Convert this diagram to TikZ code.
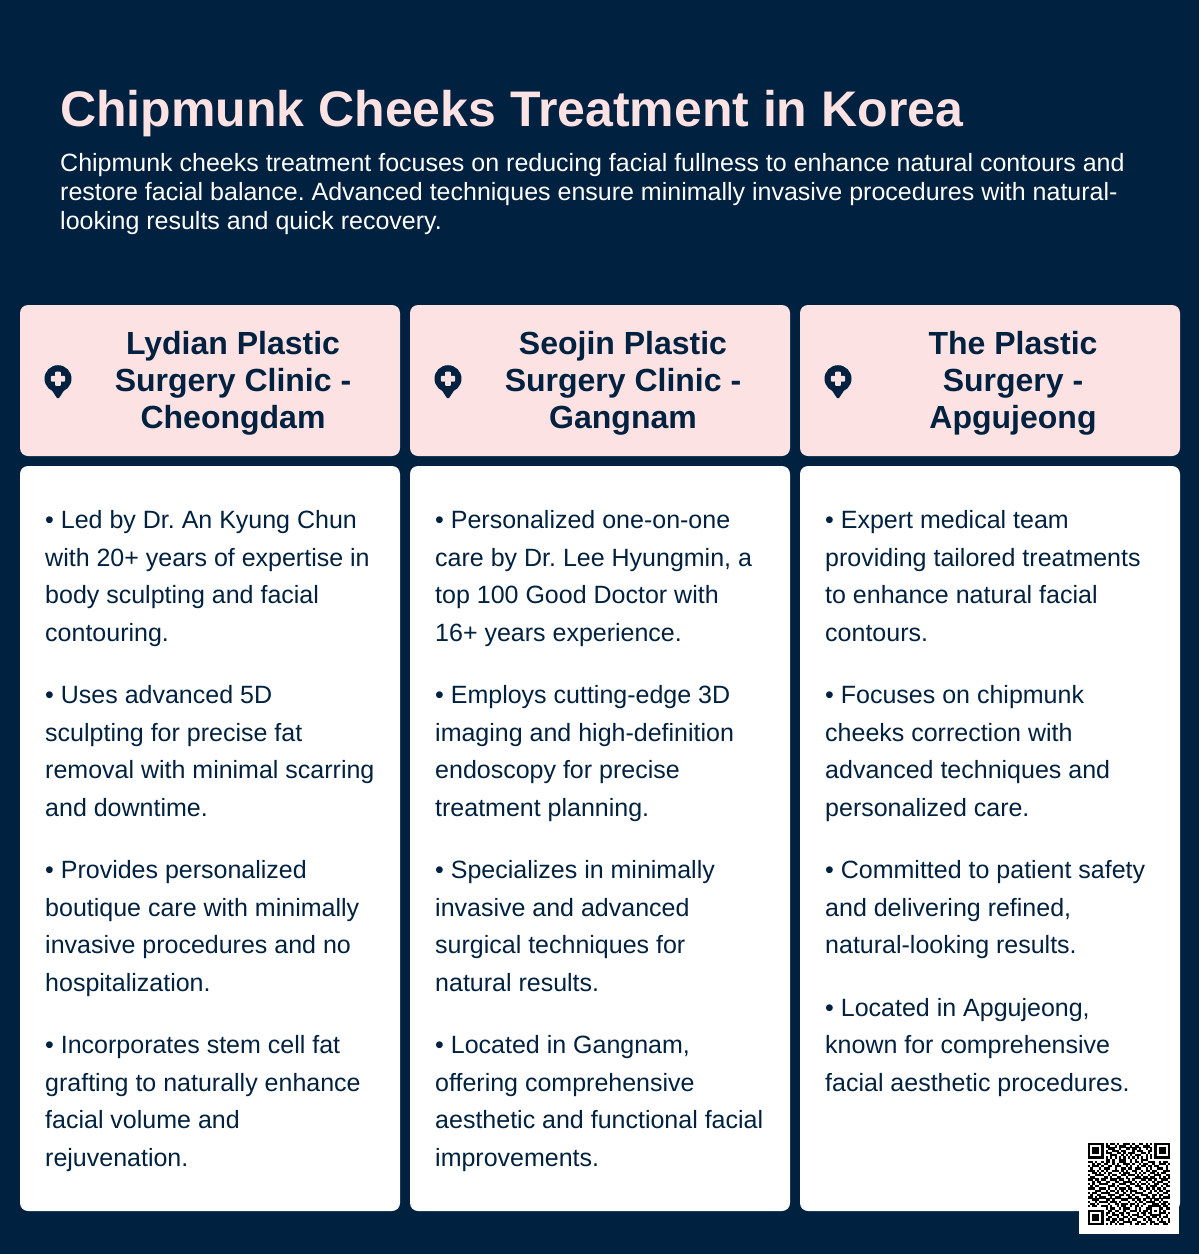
\documentclass[tikz,border=0pt]{standalone}
\usepackage{fontspec}
\setmainfont{Liberation Sans}
\frenchspacing
\definecolor{navy}{HTML}{00213F}
\definecolor{pinkish}{HTML}{FDE2E3}
\tikzset{x=1pt,y=-1pt,
 headbox/.style={fill=pinkish,rounded corners=8pt},
 bodybox/.style={fill=white,rounded corners=8pt},
 headtxt/.style={anchor=center,align=center,font=\fontsize{32}{37}\selectfont\bfseries,text=navy,inner sep=0pt},
 bodytxt/.style={anchor=base west,font=\fontsize{25}{25}\selectfont,text=navy,inner sep=0pt},
 titletxt/.style={anchor=base west,inner sep=0pt},
 subtxt/.style={titletxt,text=white,font=\fontsize{25}{25}\selectfont},
 qrcell/.style={fill=black},
}
\newcommand{\pinmark}[2]{%
 \fill[navy] (#1,#2) circle[radius=13.5];
 \fill[navy] (#1-6.5,#2+11) -- (#1+6.5,#2+11) -- (#1+0.9,#2+19.5) -- (#1-0.9,#2+19.5) -- cycle;
 \fill[pinkish,rounded corners=0.8pt] (#1-2.8,#2-7.2) rectangle (#1+2.8,#2+7.2);
 \fill[pinkish,rounded corners=0.8pt] (#1-7.2,#2-2.8) rectangle (#1+7.2,#2+2.8);
}
\newcount\qrx
\newcount\qry
\def\qrscan#1{\ifx#1\relax\else
  \if#11\fill[qrcell] ({1088+\the\qrx*2.2162},{1143+\the\qry*2.2162}) rectangle ++(2.3,2.3);\fi
  \advance\qrx by 1
  \expandafter\qrscan\fi}
\newcommand{\qrrow}[1]{\qrx=0 \qrscan#1\relax \advance\qry by 1 }
\begin{document}
\begin{tikzpicture}
\useasboundingbox (0,0) rectangle (1199,1254);
\fill[navy] (0,0) rectangle (1199,1254);
\node[titletxt,text=pinkish,font=\fontsize{50}{50}\selectfont\bfseries] (title) at (60,126) {Chipmunk Cheeks Treatment in Korea};
\node[subtxt] (s1) at (60,171) {Chipmunk cheeks treatment focuses on reducing facial fullness to enhance natural contours and};
\node[subtxt] (s2) at (60,200) {restore facial balance. Advanced techniques ensure minimally invasive procedures with natural-};
\node[subtxt] (s3) at (60,229) {looking results and quick recovery.};
\foreach \x in {20,410,800}{
 \fill[headbox] (\x,305) rectangle (\x+380,456);
 \fill[bodybox] (\x,466) rectangle (\x+380,1211);
 \pinmark{\x+38}{378.7}
}
\node[headtxt] (ha) at (233,383) {Lydian Plastic\\Surgery Clinic -\\Cheongdam};
\node[headtxt] (hb) at (623,383) {Seojin Plastic\\Surgery Clinic -\\Gangnam};
\node[headtxt] (hc) at (1013,383) {The Plastic\\Surgery -\\Apgujeong};
\foreach \x/\y/\t in {
45/528/• Led by Dr. An Kyung Chun,45/566/with 20+ years of expertise in,45/603/body sculpting and facial,45/641/contouring.,
45/703/• Uses advanced 5D,45/741/sculpting for precise fat,45/778/removal with minimal scarring,45/816/and downtime.,
45/878/• Provides personalized,45/916/boutique care with minimally,45/953/invasive procedures and no,45/991/hospitalization.,
45/1053/• Incorporates stem cell fat,45/1091/grafting to naturally enhance,45/1128/facial volume and,45/1166/rejuvenation.,
435/528/• Personalized one-on-one,435/566/{care by Dr. Lee Hyungmin, a},435/603/top 100 Good Doctor with,435/641/16+ years experience.,
435/703/• Employs cutting-edge 3D,435/741/imaging and high-definition,435/778/endoscopy for precise,435/816/treatment planning.,
435/878/• Specializes in minimally,435/916/invasive and advanced,435/953/surgical techniques for,435/991/natural results.,
435/1053/{• Located in Gangnam,},435/1091/offering comprehensive,435/1128/aesthetic and functional facial,435/1166/improvements.,
825/528/• Expert medical team,825/566/providing tailored treatments,825/603/to enhance natural facial,825/641/contours.,
825/703/• Focuses on chipmunk,825/741/cheeks correction with,825/778/advanced techniques and,825/816/personalized care.,
825/878/• Committed to patient safety,825/916/{and delivering refined,},825/953/natural-looking results.,
825/1016/{• Located in Apgujeong,},825/1053/known for comprehensive,825/1091/facial aesthetic procedures.}{
 \node[bodytxt] at (\x,\y) {\t};
}
\fill[white] (1079,1134) rectangle (1179,1234);
\qrrow{1111111010110100111010011010101111111}
\qrrow{1000001011001011100101100111001000001}
\qrrow{1011101001110010011011010010101011101}
\qrrow{1011101010011101100010111001101011101}
\qrrow{1011101011100110101110001101001011101}
\qrrow{1000001000111001010101110010101000001}
\qrrow{1111111010101010101010101010101111111}
\qrrow{0000000011010011100101001110000000000}
\qrrow{1101001011010011100101101001110010110}
\qrrow{0010110110010100111010010110010011101}
\qrrow{1011101001101110010100101101101100010}
\qrrow{0100010111001001101101110010100111010}
\qrrow{1110101010011101010011001011011000111}
\qrrow{0011010101100010111001010100110101100}
\qrrow{1001111001011001101110101001001110011}
\qrrow{0110000110100110010001110110110010101}
\qrrow{1101101100111011001010001101101001110}
\qrrow{0010110011001100111101010010010111001}
\qrrow{1010011110010011100110101101001100110}
\qrrow{0101100001110100011001110010111001011}
\qrrow{1110011101001011101100011011010110100}
\qrrow{0001110010110101010111000100101011011}
\qrrow{1011001111001100100101111001100100110}
\qrrow{0100110001110011011010001110011011001}
\qrrow{1101011100101110001101100011010010111}
\qrrow{0011100011010001110010110100101101000}
\qrrow{1001011110111010001001011011110010110}
\qrrow{0110100001001101110110100100011101101}
\qrrow{1011001110100101100101101001111110110}
\qrrow{0000000010110010111001010011100011011}
\qrrow{1111111001101100100111010110101010100}
\qrrow{1000001011010011011000101101100011101}
\qrrow{1011101010011101001011100100111110010}
\qrrow{1011101001100100110100111011011010110}
\qrrow{1011101011011011001011000101100101001}
\qrrow{1000001000110100111100110010110011101}
\qrrow{1111111010101011000101101100101100110}
\end{tikzpicture}
\end{document}
